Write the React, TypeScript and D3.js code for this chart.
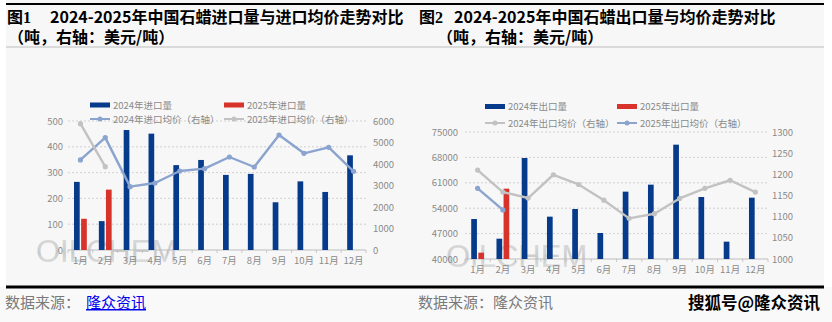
import React from 'react';
import * as d3 from 'd3';

const months = ['1月', '2月', '3月', '4月', '5月', '6月', '7月', '8月', '9月', '10月', '11月', '12月'];

const import2024 = [264, 112, 465, 451, 329, 349, 291, 295, 185, 266, 225, 367];
const import2025 = [121, 234];
const importPrice2024 = [4190, 5225, 2946, 3116, 3674, 3783, 4326, 3860, 5349, 4496, 4775, 3659];
const importPrice2025 = [5876, 3876];
const importLeftTicks = [0, 100, 200, 300, 400, 500];
const importRightTicks = [0, 1000, 2000, 3000, 4000, 5000, 6000];

const export2024 = [51020, 45600, 67830, 51670, 53780, 47170, 58560, 60490, 71510, 57090, 44780, 56900];
const export2025 = [41750, 59380];
const exportPrice2024 = [1210, 1158, 1144, 1199, 1176, 1139, 1096, 1107, 1143, 1167, 1186, 1158];
const exportPrice2025 = [1167, 1116];
const exportLeftTicks = [40000, 47000, 54000, 61000, 68000, 75000];
const exportRightTicks = [1000, 1050, 1100, 1150, 1200, 1250, 1300];

const NAVY = '#063a8a';
const RED = '#d8332a';
const BLUEGRAY = '#8aa3cf';
const GRAY = '#c2c2c2';
const TXT = '#8a8a8a';
const FONT = '"Noto Sans CJK SC", "Noto Sans", sans-serif';

type ChartProps = {
  x0: number; x1: number; yBottom: number; yTop: number;
  leftTicks: number[]; rightTicks: number[];
  bars24: number[]; bars25: number[];
  price24: number[]; price25: number[];
  price24Color: string; price25Color: string;
  legend: string[];
  legendX: number[]; legendY: number[];
  leftLabelX: number; rightLabelX: number; monthY: number;
  wm: { x: number; y: number };
  gradId: string;
};

function Chart(p: ChartProps) {
  const x = d3.scaleBand<string>().domain(months).range([p.x0, p.x1]);
  const bw = x.bandwidth();
  const yl = d3.scaleLinear().domain([p.leftTicks[0], p.leftTicks[p.leftTicks.length - 1]]).range([p.yBottom, p.yTop]);
  const yr = d3.scaleLinear().domain([p.rightTicks[0], p.rightTicks[p.rightTicks.length - 1]]).range([p.yBottom, p.yTop]);
  const cx = (i: number) => (x(months[i]) as number) + bw / 2;
  const barW = 5.7;
  const line = d3.line<number>().x((_, i) => cx(i)).y((d) => yr(d));
  return (
    <g fontFamily={FONT}>
      <defs>
        <linearGradient id={p.gradId} x1="0" y1="0" x2="0" y2="1">
          <stop offset="0" stopColor="#dcdcdc" />
          <stop offset="0.55" stopColor="#c6c6c6" />
          <stop offset="1" stopColor="#e8e8e8" />
        </linearGradient>
      </defs>
      <text x={p.wm.x} y={p.wm.y} fontFamily='"Liberation Sans", Arial, sans-serif' fontSize={31} fill={`url(#${p.gradId})`} opacity={0.9}>OILCHEM</text>
      {p.leftTicks.slice(1).map((t) => (
        <line key={t} x1={p.x0} x2={p.x1} y1={yl(t)} y2={yl(t)} stroke="#c8c8c8" strokeDasharray="2,2" strokeWidth={0.8} />
      ))}
      <line x1={p.x0} x2={p.x1} y1={p.yBottom} y2={p.yBottom} stroke="#bdbdbd" strokeWidth={1} />
      {d3.range(months.length + 1).map((i) => {
        const xx = p.x0 + i * bw;
        return <line key={i} x1={xx} x2={xx} y1={p.yBottom} y2={p.yBottom + 3} stroke="#bdbdbd" strokeWidth={0.8} />;
      })}
      {p.leftTicks.map((t) => (
        <text key={t} x={p.leftLabelX} y={yl(t) + 3.5} textAnchor="end" fontSize={9.5} fill={TXT}>{t}</text>
      ))}
      {p.rightTicks.map((t) => (
        <text key={t} x={p.rightLabelX} y={yr(t) + 3.5} textAnchor="start" fontSize={9.5} fill={TXT}>{t}</text>
      ))}
      {months.map((m, i) => (
        <text key={m} x={cx(i)} y={p.monthY} textAnchor="middle" fontSize={9.5} fill={TXT}>{m}</text>
      ))}
      {p.bars24.map((v, i) => (
        <rect key={'a' + i} x={cx(i) - 0.7 - barW} y={yl(v)} width={barW} height={p.yBottom - yl(v)} fill={NAVY} />
      ))}
      {p.bars25.map((v, i) => (
        <rect key={'b' + i} x={cx(i) + 0.7} y={yl(v)} width={barW} height={p.yBottom - yl(v)} fill={RED} />
      ))}
      <path d={line(p.price24) as string} fill="none" stroke={p.price24Color} strokeWidth={2.4} strokeLinejoin="round" />
      {p.price24.map((v, i) => <circle key={'c' + i} cx={cx(i)} cy={yr(v)} r={2.6} fill={p.price24Color} />)}
      <path d={line(p.price25) as string} fill="none" stroke={p.price25Color} strokeWidth={2.4} strokeLinejoin="round" />
      {p.price25.map((v, i) => <circle key={'d' + i} cx={cx(i)} cy={yr(v)} r={2.6} fill={p.price25Color} />)}
      {/* legend */}
      <rect x={p.legendX[0]} y={p.legendY[0] - 2.5} width={20} height={5} fill={NAVY} />
      <text x={p.legendX[0] + 23} y={p.legendY[0] + 3.5} fontSize={9.5} fill={TXT}>{p.legend[0]}</text>
      <rect x={p.legendX[1]} y={p.legendY[0] - 2.5} width={20} height={5} fill={RED} />
      <text x={p.legendX[1] + 23} y={p.legendY[0] + 3.5} fontSize={9.5} fill={TXT}>{p.legend[1]}</text>
      <line x1={p.legendX[0]} x2={p.legendX[0] + 20} y1={p.legendY[1]} y2={p.legendY[1]} stroke={p.price24Color} strokeWidth={2} />
      <circle cx={p.legendX[0] + 10} cy={p.legendY[1]} r={2.5} fill={p.price24Color} />
      <text x={p.legendX[0] + 23} y={p.legendY[1] + 3.5} fontSize={9.5} fill={TXT}>{p.legend[2]}</text>
      <line x1={p.legendX[1]} x2={p.legendX[1] + 20} y1={p.legendY[1]} y2={p.legendY[1]} stroke={p.price25Color} strokeWidth={2} />
      <circle cx={p.legendX[1] + 10} cy={p.legendY[1]} r={2.5} fill={p.price25Color} />
      <text x={p.legendX[1] + 23} y={p.legendY[1] + 3.5} fontSize={9.5} fill={TXT}>{p.legend[3]}</text>
    </g>
  );
}

export default function App() {
  return (
    <svg width={832} height={322} style={{ position: 'absolute', left: 0, top: 0 }} fontFamily={FONT}>
      <rect x={0} y={0} width={832} height={322} fill="#ffffff" />
      <rect x={6} y={0} width={818} height={287} fill="#f7f7f7" />
      <rect x={0} y={287} width={832} height={35} fill="#f9f9f9" />
      <rect x={6} y={3} width={818} height={2} fill="#000" />
      <rect x={6} y={46.5} width={818} height={1} fill="#bdbdbd" />
      <rect x={6} y={285.5} width={818} height={3} fill="#000" />

      <text x={7} y={23} fontSize={16} fontWeight="bold" fill="#000">
        <tspan>图</tspan><tspan fontFamily='"Liberation Serif", serif'>1</tspan>
      </text>
      <text x={50} y={23} fontSize={16} fontWeight="bold" fill="#000">2024-2025年中国石蜡进口量与进口均价走势对比</text>
      <text x={8} y={43} fontSize={16} fontWeight="bold" fill="#000">（吨，右轴：美元/吨）</text>

      <text x={419} y={23} fontSize={16} fontWeight="bold" fill="#000">
        <tspan>图</tspan><tspan fontFamily='"Liberation Serif", serif'>2</tspan>
      </text>
      <text x={454} y={23} fontSize={16} fontWeight="bold" fill="#000">2024-2025年中国石蜡出口量与均价走势对比</text>
      <text x={437} y={43} fontSize={16} fontWeight="bold" fill="#000">（吨，右轴：美元/吨）</text>

      <Chart
        x0={68} x1={366} yBottom={250} yTop={121}
        leftTicks={importLeftTicks} rightTicks={importRightTicks}
        bars24={import2024} bars25={import2025}
        price24={importPrice2024} price25={importPrice2025}
        price24Color={BLUEGRAY} price25Color={GRAY}
        legend={['2024年进口量', '2025年进口量', '2024年进口均价（右轴）', '2025年进口均价（右轴）']}
        legendX={[90, 224]} legendY={[105, 119]}
        leftLabelX={63} rightLabelX={373} monthY={264}
        wm={{ x: 36, y: 262 }} gradId="wm1"
      />
      <Chart
        x0={465} x1={768} yBottom={259} yTop={132}
        leftTicks={exportLeftTicks} rightTicks={exportRightTicks}
        bars24={export2024} bars25={export2025}
        price24={exportPrice2024} price25={exportPrice2025}
        price24Color={GRAY} price25Color={BLUEGRAY}
        legend={['2024年出口量', '2025年出口量', '2024年出口均价（右轴）', '2025年出口均价（右轴）']}
        legendX={[485, 617]} legendY={[106.5, 123]}
        leftLabelX={458} rightLabelX={772} monthY={273}
        wm={{ x: 446, y: 267 }} gradId="wm2"
      />

      <text x={5} y={308} fontSize={15} fill="#7a7a7a">数据来源：</text>
      <text x={86} y={308} fontSize={15} fill="#0000ee" textDecoration="underline">隆众资讯</text>
      <text x={418} y={308} fontSize={15} fill="#7a7a7a">数据来源：隆众资讯</text>
      <text x={688} y={309} fontSize={16.5} fontWeight="bold" fill="#000" stroke="#fff" strokeWidth={0.6} paintOrder="stroke">搜狐号@隆众资讯</text>
    </svg>
  );
}
